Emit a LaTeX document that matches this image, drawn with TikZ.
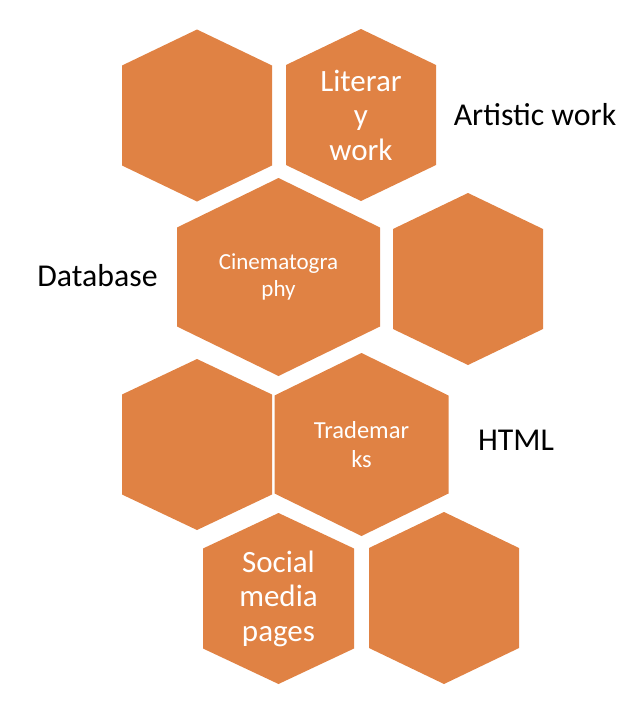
\documentclass[tikz,border=0pt]{standalone}
\usepackage{fontspec}
\setmainfont{Carlito}
\definecolor{hexorange}{RGB}{224,130,68}

% one hexagon cell: name, cx, cy, half width, half height, half side
\newcommand{\hexcell}[6]{%
  \fill[hexorange] (#2,#3-#5) -- (#2+#4,#3-#6) -- (#2+#4,#3+#6) -- (#2,#3+#5)
    -- (#2-#4,#3+#6) -- (#2-#4,#3-#6) -- cycle;
  \coordinate (#1) at (#2,#3);}

\begin{document}
\begin{tikzpicture}[x=1pt, y=-1pt,
  hextext/.style={text=white, align=center, inner sep=0pt},
  big/.style={font=\fontsize{31}{34.5}\selectfont},
  side/.style={font=\fontsize{31.8}{36}\selectfont, anchor=base, inner sep=0pt}]
  \useasboundingbox (0,0) rectangle (640,712);
  % row 1
  \hexcell{hexA}{197}{115.5}{75}{86}{50}
  \hexcell{hexB}{361}{115}{75}{86}{50}
  % row 2
  \hexcell{hexC}{278.5}{277}{101.5}{99}{49.5}
  \hexcell{hexD}{468}{279}{75}{86}{50}
  % row 3
  \hexcell{hexE}{197}{444.5}{75}{85.5}{50}
  \hexcell{hexF}{361.5}{444.5}{87}{91.5}{49}
  % row 4
  \hexcell{hexG}{278.5}{598.5}{75.5}{85.5}{50}
  \hexcell{hexH}{444}{598}{75}{86}{50}
  % texts in the cells
  \node[hextext, big] (literary) at (hexB) {Literar\\y\\work};
  \node[hextext, font=\fontsize{23}{26.5}\selectfont] (cinema) at (hexC) {Cinematogra\\phy};
  \node[hextext, font=\fontsize{24.5}{29}\selectfont] (trade) at (hexF) {Trademar\\ks};
  \node[hextext, big] (social) at (hexG) {Social\\media\\pages};
  % side labels
  \node[side] (artistic) at (535,125) {Artistic work};
  \node[side] (database) at (97.5,286) {Database};
  \node[side] (html) at (516,450.7) {HTML};
\end{tikzpicture}
\end{document}
